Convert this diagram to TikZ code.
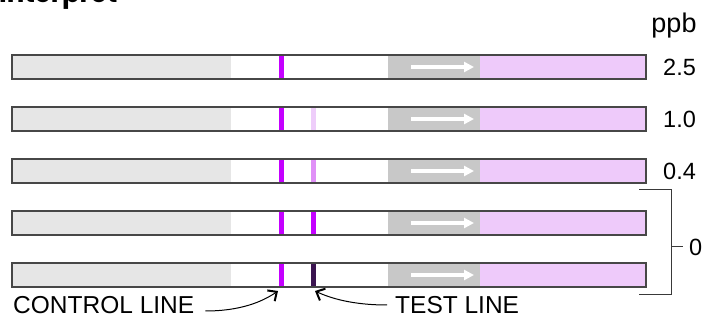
\documentclass[tikz,border=0pt]{standalone}
\usepackage{fontspec}
\setmainfont{Liberation Sans}
\newfontfamily\titlefont{Poppins}
\usetikzlibrary{arrows.meta}
\definecolor{bordercol}{HTML}{474747}
\definecolor{padgray}{HTML}{E6E6E6}
\definecolor{wickgray}{HTML}{C8C8C8}
\definecolor{padpink}{HTML}{EECAFA}
\definecolor{ctrlcol}{HTML}{C400FF}
\definecolor{testA}{HTML}{EECDFA}
\definecolor{testB}{HTML}{E090F7}
\definecolor{testC}{HTML}{C400FF}
\definecolor{testD}{HTML}{3B1450}
\tikzset{
  stripborder/.style={draw=bordercol, line width=1.5pt},
  lbl/.style={inner sep=0pt, font=\fontsize{23.5}{23.5}\selectfont},
  bottomlbl/.style={inner sep=0pt, font=\fontsize{24.5}{24.5}\selectfont},
  pointer/.style={black, line width=1pt, -{Straight Barb[length=7pt,width=13pt,line width=2pt]}},
  flow/.style={white, line width=4.5pt, -{Triangle[length=10pt,width=10pt]}},
}
\begin{document}
\begin{tikzpicture}[x=1pt,y=-1pt]
\useasboundingbox (0,0) rectangle (721,320);
% title (cut off)
\node[anchor=base west, inner sep=0pt, font=\titlefont\bfseries\fontsize{26}{26}\selectfont] (title) at (-1,3) {interpret};
% strips
\foreach \i/\tc in {1/testA,2/testA,3/testB,4/testC,5/testD}{
  \pgfmathsetmacro\top{55+52*(\i-1)}
  \pgfmathsetmacro\bot{\top+24}
  \pgfmathsetmacro\mid{\top+12}
  \fill[padgray] (12,\top) rectangle (231,\bot);
  \fill[white] (231,\top) rectangle (388,\bot);
  \fill[wickgray] (388,\top) rectangle (480,\bot);
  \fill[padpink] (480,\top) rectangle (646,\bot);
  \fill[ctrlcol] (279,\top) rectangle (284,\bot);
  \ifnum\i>1 \fill[\tc] (311,\top) rectangle (316,\bot);\fi
  \draw[flow] (411,\mid) -- (474,\mid);
  \draw[stripborder] (12,\top) rectangle (646,\bot);
}
% labels
\node[inner sep=0pt, font=\fontsize{27}{27}\selectfont] (ppb) at (674,26) {ppb};
\node[lbl, anchor=west] (c25) at (663,67) {2.5};
\node[lbl, anchor=west] (c10) at (663,119) {1.0};
\node[lbl, anchor=west] (c04) at (663,171) {0.4};
\node[lbl, anchor=west] (c0) at (689,247) {0};
% bracket
\draw[bordercol!80!black, line width=1pt] (639,190) -- (671,190) -- (671,295) -- (639,295);
\draw[bordercol!80!black, line width=1pt] (671,247) -- (683,247);
% bottom labels
\coordinate (ctrltip) at (278,291);
\coordinate (testtip) at (315,291);
\node[bottomlbl, anchor=west] (ctrllbl) at (13,305) {CONTROL LINE};
\node[bottomlbl, anchor=west] (testlbl) at (395,305) {TEST LINE};
\draw[pointer] (ctrllbl.east) ++(11,6) .. controls (240,311) and (262,302) .. (ctrltip);
\draw[pointer] (testlbl.west) ++(-8,0) .. controls (352,305) and (330,298) .. (testtip);
\end{tikzpicture}
\end{document}
